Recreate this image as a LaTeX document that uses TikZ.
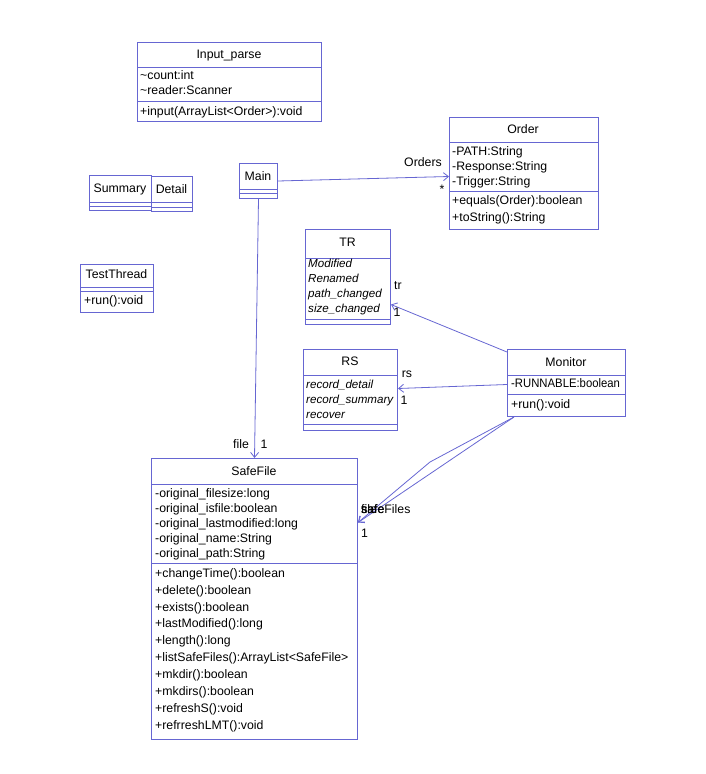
\documentclass[tikz,border=0pt]{standalone}
\usepackage{fontspec}
\setmainfont{Liberation Sans}
\usetikzlibrary{arrows.meta,calc}
\definecolor{umlc}{RGB}{102,102,210}
\begin{document}
\begin{tikzpicture}[x=1pt,y=-1pt,
  box/.style={draw=umlc,line width=1pt,anchor=north west,inner sep=0pt,rectangle},
  sep/.style={draw=umlc,line width=1pt},
  txt/.style={anchor=base west,yshift=-4.5pt,inner sep=0pt,font=\fontsize{12.3}{14}\selectfont},
  itx/.style={txt,font=\fontsize{11.6}{14}\selectfont\itshape},
  ttl/.style={anchor=base,yshift=-4.5pt,inner sep=0pt,font=\fontsize{12.3}{14}\selectfont},
  lbl/.style={anchor=base,yshift=-4.5pt,inner sep=0pt,font=\fontsize{12.3}{14}\selectfont},
  assoc/.style={draw=umlc,line width=0.8pt,-{Straight Barb[length=5pt,width=8pt]}}]
\useasboundingbox (0,0) rectangle (706,774);

% Input_parse
\node[box,minimum width=184pt,minimum height=79pt] (input) at (137,42) {};
\draw[sep] (137,67) -- (321,67);
\draw[sep] (137,101) -- (321,101);
\node[ttl] (inputT) at (229,54) {Input\_parse};
\node[txt] (input1) at (140,75) {\textasciitilde count:int};
\node[txt] (input2) at (140,90) {\textasciitilde reader:Scanner};
\node[txt] (input3) at (140,111) {+input(ArrayList<Order>):void};

% Order
\node[box,minimum width=149pt,minimum height=112pt] (order) at (449,117) {};
\draw[sep] (449,142) -- (598,142);
\draw[sep] (449,191) -- (598,191);
\node[ttl] (orderT) at (523,129) {Order};
\node[txt] (order1) at (452,151) {-PATH:String};
\node[txt] (order2) at (452,166) {-Response:String};
\node[txt] (order3) at (452,181) {-Trigger:String};
\node[txt] (order4) at (452,200) {+equals(Order):boolean};
\node[txt] (order5) at (452,217) {+toString():String};

% Summary
\node[box,minimum width=62pt,minimum height=35pt] (summary) at (89,175) {};
\draw[sep] (89,202) -- (151,202);
\draw[sep] (89,206) -- (151,206);
\node[ttl] (summaryT) at (120,188) {Summary};

% Detail
\node[box,minimum width=41pt,minimum height=35pt] (detail) at (151,176) {};
\draw[sep] (151,202) -- (192,202);
\draw[sep] (151,207) -- (192,207);
\node[ttl] (detailT) at (171.5,189) {Detail};

% Main
\node[box,minimum width=38pt,minimum height=35pt] (main) at (239,163) {};
\draw[sep] (239,189) -- (277,189);
\draw[sep] (239,193) -- (277,193);
\node[ttl] (mainT) at (258,176) {Main};

% TestThread
\node[box,minimum width=73pt,minimum height=48pt] (test) at (80,264) {};
\draw[sep] (80,287) -- (153,287);
\draw[sep] (80,291) -- (153,291);
\node[ttl] (testT) at (116.5,274) {TestThread};
\node[txt] (test1) at (84,300) {+run():void};

% TR
\node[box,minimum width=85pt,minimum height=95pt] (tr) at (305,229) {};
\draw[sep] (305,258) -- (390,258);
\draw[sep] (305,319) -- (390,319);
\node[ttl] (trT) at (347.5,242) {TR};
\node[itx] (tr1) at (308,263) {Modified};
\node[itx] (tr2) at (308,278) {Renamed};
\node[itx] (tr3) at (308,293) {path\_changed};
\node[itx] (tr4) at (308,308) {size\_changed};

% RS
\node[box,minimum width=94pt,minimum height=81pt] (rs) at (303,349) {};
\draw[sep] (303,375) -- (397,375);
\draw[sep] (303,424) -- (397,424);
\node[ttl] (rsT) at (350,361) {RS};
\node[itx] (rs1) at (306,384) {record\_detail};
\node[itx] (rs2) at (306,399) {record\_summary};
\node[itx] (rs3) at (306,414) {recover};

% Monitor
\node[box,minimum width=118pt,minimum height=67pt] (monitor) at (507,349) {};
\draw[sep] (507,375) -- (625,375);
\draw[sep] (507,394) -- (625,394);
\node[ttl] (monitorT) at (566,362) {Monitor};
\node[txt] (monitor1) at (511,383) {\scalebox{0.92}[1]{-RUNNABLE:boolean}};
\node[txt] (monitor2) at (511,404) {+run():void};

% SafeFile
\node[box,minimum width=206pt,minimum height=281pt] (safefile) at (151,458) {};
\draw[sep] (151,484) -- (357,484);
\draw[sep] (151,563) -- (357,563);
\node[ttl] (safefileT) at (254,471) {SafeFile};
\node[txt] (sf1) at (155,493) {-original\_filesize:long};
\node[txt] (sf2) at (155,508) {-original\_isfile:boolean};
\node[txt] (sf3) at (155,523) {-original\_lastmodified:long};
\node[txt] (sf4) at (155,538) {-original\_name:String};
\node[txt] (sf5) at (155,553) {-original\_path:String};
\node[txt] (sm1) at (155,573) {+changeTime():boolean};
\node[txt] (sm2) at (155,590) {+delete():boolean};
\node[txt] (sm3) at (155,607) {+exists():boolean};
\node[txt] (sm4) at (155,623) {+lastModified():long};
\node[txt] (sm5) at (155,640) {+length():long};
\node[txt] (sm6) at (155,657) {+listSafeFiles():ArrayList<SafeFile>};
\node[txt] (sm7) at (155,674) {+mkdir():boolean};
\node[txt] (sm8) at (155,691) {+mkdirs():boolean};
\node[txt] (sm9) at (155,708) {+refreshS():void};
\node[txt] (sm10) at (155,725) {+refrreshLMT():void};

% connectors
\draw[assoc] (main.east) -- ([yshift=-3pt]order.west);
\node[lbl] (lOrders) at (423,162) {Orders};
\node[lbl] (lOrdersM) at (442,189) {*};

\draw[assoc] (main.south) -- (safefile.north);
\node[lbl] (lfile) at (241,444) {file};
\node[lbl] (lfileM) at (264,444) {1};

\draw[assoc] ([yshift=-3pt]monitor.north west) -- ([yshift=-27.5pt]tr.east);
\node[lbl] (ltr) at (398,285) {tr};
\node[lbl] (ltrM) at (397,312) {1};

\draw[assoc] ([yshift=-1.5pt]monitor.west) -- ([yshift=1.5pt]rs.east);
\node[lbl] (lrs) at (407,373) {rs};
\node[lbl] (lrsM) at (404,400) {1};

\coordinate (sfin) at ([yshift=76.5pt]safefile.east);
\coordinate (msrc) at ([xshift=7pt]monitor.south west);
\coordinate (bend) at (430,462);
\draw[assoc] (msrc) -- (sfin);
\draw[assoc] (msrc) -- (bend) -- (sfin);
\node[txt] (lsf1) at (361,509) {file};
\node[txt] (lsf2) at (361,509) {safe};
\node[txt] (lsf3) at (361,509) {safeFiles};
\node[txt] (lsfM) at (361,533) {1};
\end{tikzpicture}
\end{document}
